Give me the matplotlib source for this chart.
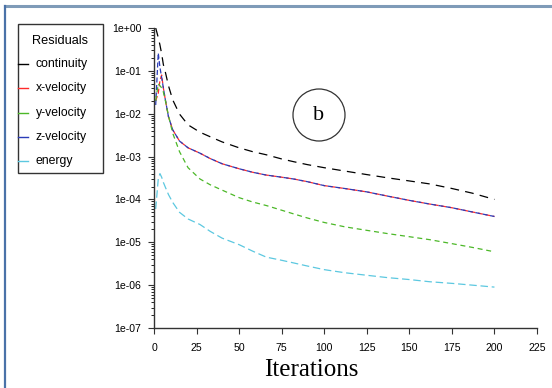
import matplotlib
matplotlib.use("Agg")
import matplotlib.pyplot as plt
from matplotlib.lines import Line2D
from matplotlib.patches import Ellipse, Rectangle

iterations = [1, 2.5, 3.5, 4.5, 5.5, 6.5, 8.5, 11, 15, 20, 27, 33, 40, 50, 58, 66, 75, 82,
              90, 100, 112, 125, 137, 150, 162, 175, 187, 200]
continuity = [1.0, 0.6, 0.4, 0.25, 0.14, 0.1, 0.045, 0.021, 0.0098, 0.0055, 0.0037, 0.0029,
              0.0022, 0.0016, 0.0013, 0.0011, 8.8e-4, 7.6e-4, 6.5e-4, 5.5e-4, 4.6e-4, 3.8e-4,
              3.2e-4, 2.7e-4, 2.3e-4, 1.8e-4, 1.4e-4, 1.0e-4]
x_velocity = [0.02, 0.03, 0.06, 0.08, 0.04, 0.023, 0.0085, 0.0042, 0.0023, 0.0016, 0.0012,
              9e-4, 6.8e-4, 5.2e-4, 4.3e-4, 3.7e-4, 3.3e-4, 3.0e-4, 2.6e-4, 2.1e-4, 1.8e-4,
              1.5e-4, 1.2e-4, 9.5e-5, 7.8e-5, 6.4e-5, 5.1e-5, 4.0e-5]
z_velocity = [0.016, 0.26, 0.12, 0.07, 0.04, 0.023, 0.0085, 0.0042, 0.0023, 0.0016, 0.0012,
              9e-4, 6.8e-4, 5.2e-4, 4.3e-4, 3.7e-4, 3.3e-4, 3.0e-4, 2.6e-4, 2.1e-4, 1.8e-4,
              1.5e-4, 1.2e-4, 9.5e-5, 7.8e-5, 6.4e-5, 5.1e-5, 4.0e-5]
y_velocity = [0.02, 0.05, 0.045, 0.04, 0.032, 0.022, 0.009, 0.0035, 0.0013, 5.5e-4, 3.0e-4,
              2.2e-4, 1.65e-4, 1.1e-4, 8.7e-5, 7.2e-5, 5.6e-5, 4.6e-5, 3.7e-5, 2.9e-5, 2.3e-5,
              1.9e-5, 1.6e-5, 1.35e-5, 1.15e-5, 9.3e-6, 7.6e-6, 6.0e-6]
energy = [6e-5, 3e-4, 4e-4, 3.3e-4, 2.5e-4, 2e-4, 1.3e-4, 8.5e-5, 5e-5, 3.5e-5, 2.6e-5,
          1.8e-5, 1.25e-5, 8.8e-6, 6.2e-6, 4.5e-6, 3.8e-6, 3.3e-6, 2.8e-6, 2.3e-6, 1.95e-6,
          1.7e-6, 1.5e-6, 1.35e-6, 1.2e-6, 1.1e-6, 1.0e-6, 9e-7]

series_labels = ['continuity', 'x-velocity', 'y-velocity', 'z-velocity', 'energy']
series_colors = ['black', '#ff2a2a', '#4cb828', '#2a3cb8', '#5cc8e0']

xticks = [0, 25, 50, 75, 100, 125, 150, 175, 200, 225]
yticks = [1e0, 1e-1, 1e-2, 1e-3, 1e-4, 1e-5, 1e-6, 1e-7]
ytick_labels = ["1e+00", "1e-01", "1e-02", "1e-03", "1e-04", "1e-05", "1e-06", "1e-07"]

plt.rcParams['font.family'] = ['Liberation Sans', 'DejaVu Sans']
serif = ['Liberation Serif', 'DejaVu Serif']

W, H = 552, 388
fig = plt.figure(figsize=(W/100, H/100), dpi=100)
ax = fig.add_axes([154/W, 1-328/H, 383/W, 300/H])

ax.plot(iterations, continuity, color=series_colors[0], lw=0.9, dashes=(7, 5))
ax.plot(iterations, x_velocity, color=series_colors[1], lw=0.9, dashes=(4, 2))
ax.plot(iterations, z_velocity, color=series_colors[3], lw=0.9, dashes=(4, 2))
ax.plot(iterations, y_velocity, color=series_colors[2], lw=0.9, dashes=(4, 3))
ax.plot(iterations, energy, color=series_colors[4], lw=0.9, dashes=(6, 3))

ax.set_yscale('log')
ax.set_xlim(0, 225)
ax.set_ylim(1e-7, 1)
ax.set_xticks(xticks)
ax.set_xticklabels([str(t) for t in xticks])
ax.set_yticks(yticks)
ax.set_yticklabels(ytick_labels)
ax.tick_params(axis='both', labelsize=7.6, direction='out', length=4, width=0.8, color='#333333')
ax.tick_params(axis='y', which='minor', length=2, width=0.6)
ax.tick_params(axis='x', pad=7)
ax.tick_params(axis='y', pad=5)
for s in ['top', 'right']:
    ax.spines[s].set_visible(False)
for s in ['left', 'bottom']:
    ax.spines[s].set_color('#333333')
    ax.spines[s].set_linewidth(1.0)

fig.text(311/W, 1-370/H, 'Iterations', fontsize=18, family=serif, ha='center', va='center')

# circled label
fig.add_artist(Ellipse((319/W, 1-115/H), 52/W, 52/H, transform=fig.transFigure,
                       facecolor='none', edgecolor='#333333', lw=0.9))
fig.text(319/W, 1-115/H, 'b', fontsize=16, family=serif, ha='center', va='center')

# legend (drawn manually to match layout)
fig.add_artist(Rectangle((18/W, 1-173/H), 85/W, 149/H, transform=fig.transFigure,
                         facecolor='white', edgecolor='#333333', lw=1.0))
fig.text(60/W, 1-41/H, 'Residuals', fontsize=9.2, ha='center', va='center')
for i, (lab, col) in enumerate(zip(series_labels, series_colors)):
    yy = 1 - (64 + 24.3*i)/H
    fig.add_artist(Line2D([18/W, 28/W], [yy, yy], transform=fig.transFigure, color=col, lw=1.0))
    fig.text(36/W, yy, lab, fontsize=8.8, ha='left', va='center')

# page borders
fig.add_artist(Line2D([5/W, 1], [1-5.5/H, 1-5.5/H], transform=fig.transFigure,
                      color='#7f9bb8', lw=2.2))
fig.add_artist(Line2D([5/W, 5/W], [0, 1-5.5/H], transform=fig.transFigure,
                      color='#4a72a8', lw=1.6))

fig.savefig('out.png', dpi=100)
